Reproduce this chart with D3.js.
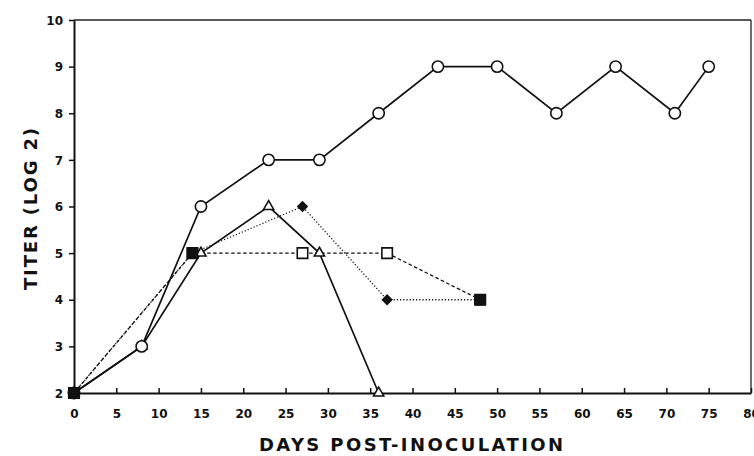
<!DOCTYPE html>
<html>
<head>
<meta charset="utf-8">
<script src="https://cdn.jsdelivr.net/npm/d3@7"></script>
<style>
  body { margin: 0; background: #fff; }
  svg text { font-family: "DejaVu Sans", "Liberation Sans", Arial, sans-serif; font-weight: bold; fill: #111; }
</style>
</head>
<body>
<div id="chart"></div>
<script>
// Titer readings per group (days post-inoculation, log2 titer)
const circleDays = [0, 8, 15, 23, 29, 36, 43, 50, 57, 64, 71, 75];
const circleTiters = [2, 3, 6, 7, 7, 8, 9, 9, 8, 9, 8, 9];

const triangleDays = [0, 8, 15, 23, 29, 36];
const triangleTiters = [2, 3, 5, 6, 5, 2];

const diamondDays = [0, 14, 27, 37, 48];
const diamondTiters = [2, 5, 6, 4, 4];

const squareDays = [0, 14, 27, 37, 48];
const squareTiters = [2, 5, 5, 5, 4];

// points where several groups coincide, drawn as a filled square
const sharedDays = [0, 14, 48];
const sharedTiters = [2, 5, 4];

const xTicks = d3.range(0, 81, 5);
const yTicks = d3.range(2, 11, 1);

const width = 754, height = 456;
const margin = { top: 20, right: 3, bottom: 63, left: 74 };

const svg = d3.select('#chart').append('svg')
  .attr('width', width)
  .attr('height', height);

const x = d3.scaleLinear().domain([0, 80]).range([margin.left, width - margin.right]);
const y = d3.scaleLinear().domain([2, 10]).range([height - margin.bottom, margin.top]);

// frame (top + right)
svg.append('line')
  .attr('x1', x(0)).attr('x2', x(80)).attr('y1', y(10)).attr('y2', y(10))
  .attr('stroke', '#222').attr('stroke-width', 1.3);
svg.append('line')
  .attr('x1', x(80)).attr('x2', x(80)).attr('y1', y(10)).attr('y2', y(2))
  .attr('stroke', '#222').attr('stroke-width', 1.3);

const xAxis = svg.append('g')
  .attr('transform', `translate(0,${y(2)})`)
  .call(d3.axisBottom(x).tickValues(xTicks).tickSizeInner(-5).tickSizeOuter(0).tickPadding(16));
const yAxis = svg.append('g')
  .attr('transform', `translate(${x(0)},0)`)
  .call(d3.axisLeft(y).tickValues(yTicks).tickSizeInner(5).tickSizeOuter(0).tickPadding(6));

[xAxis, yAxis].forEach(a => {
  a.select('.domain').attr('stroke', '#111').attr('stroke-width', 2);
  a.selectAll('.tick line').attr('stroke', '#111').attr('stroke-width', 1.5);
  a.selectAll('.tick text')
    .attr('font-size', '12px')
    .attr('font-weight', 'bold')
    .attr('font-family', '"DejaVu Sans", "Liberation Sans", Arial, sans-serif')
    .attr('fill', '#111');
});
yAxis.selectAll('.tick text').attr('dy', '0.35em');

svg.append('text')
  .attr('x', 411)
  .attr('y', 451)
  .attr('text-anchor', 'middle')
  .attr('font-size', '18px')
  .attr('textLength', 304)
  .attr('lengthAdjust', 'spacing')
  .text('DAYS POST-INOCULATION');

svg.append('text')
  .attr('transform', 'translate(37,209) rotate(-90)')
  .attr('text-anchor', 'middle')
  .attr('font-size', '18px')
  .attr('textLength', 162)
  .attr('lengthAdjust', 'spacing')
  .text('TITER (LOG 2)');

const series = [
  { days: squareDays, titers: squareTiters, dash: '3.5,2.5', width: 1.3, marker: 'square' },
  { days: diamondDays, titers: diamondTiters, dash: '1.2,2', width: 1.3, marker: 'diamond' },
  { days: triangleDays, titers: triangleTiters, dash: null, width: 1.7, marker: 'triangle' },
  { days: circleDays, titers: circleTiters, dash: null, width: 1.7, marker: 'circle' }
];

const line = d3.line().x(d => x(d[0])).y(d => y(d[1]));

series.forEach(s => {
  const pts = s.days.map((d, i) => [d, s.titers[i]]);
  svg.append('path')
    .datum(pts)
    .attr('d', line)
    .attr('fill', 'none')
    .attr('stroke', '#111')
    .attr('stroke-width', s.width)
    .attr('stroke-dasharray', s.dash);
});

const symbolFor = {
  circle: d3.symbol().type(d3.symbolCircle).size(100),
  triangle: d3.symbol().type(d3.symbolTriangle).size(45),
  diamond: d3.symbol().type(d3.symbolSquare).size(50),
  square: d3.symbol().type(d3.symbolSquare).size(110)
};

series.forEach(s => {
  const pts = s.days.map((d, i) => [d, s.titers[i]]);
  svg.append('g').selectAll('path')
    .data(pts)
    .join('path')
    .attr('transform', d => `translate(${x(d[0])},${y(d[1])})` + (s.marker === 'diamond' ? ' rotate(45)' : ''))
    .attr('d', symbolFor[s.marker]())
    .attr('fill', s.marker === 'diamond' ? '#111' : '#fff')
    .attr('stroke', '#111')
    .attr('stroke-width', s.marker === 'diamond' ? 1 : 1.6);
});

svg.append('g').selectAll('path')
  .data(sharedDays.map((d, i) => [d, sharedTiters[i]]))
  .join('path')
  .attr('transform', d => `translate(${x(d[0])},${y(d[1])})`)
  .attr('d', d3.symbol().type(d3.symbolSquare).size(110)())
  .attr('fill', '#111')
  .attr('stroke', '#111')
  .attr('stroke-width', 1);
</script>
</body>
</html>
